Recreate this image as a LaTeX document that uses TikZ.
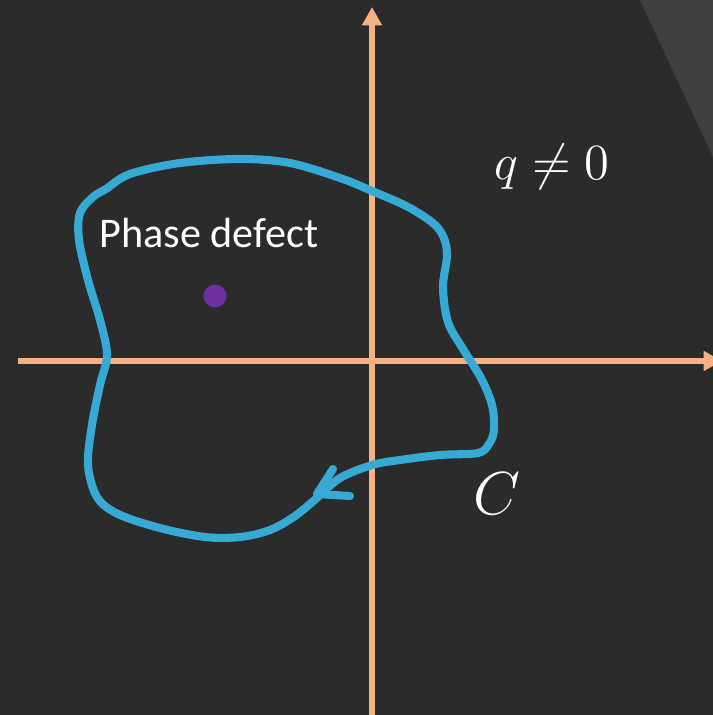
\documentclass[tikz,border=0pt]{standalone}
\usepackage{fontspec}
\setmainfont{Carlito}
\usetikzlibrary{arrows.meta}
\definecolor{bgc}{HTML}{2B2B2B}
\definecolor{tric}{HTML}{404040}
\definecolor{axc}{HTML}{F4B183}
\definecolor{loopc}{HTML}{36A9D4}
\definecolor{dotc}{HTML}{7030A0}
\tikzset{
  axis/.style={draw=axc, line width=1.45pt, -{Triangle[length=5.2pt,width=5.4pt]}},
  loopline/.style={draw=loopc, line width=2.3pt, line cap=round, line join=round},
  lbl/.style={text=white, inner sep=0pt},
}
\begin{document}
\begin{tikzpicture}[x=0.01cm,y=-0.01cm]
\fill[bgc] (0,0) rectangle (713,715);
\useasboundingbox (0,0) rectangle (713,715);
\clip (0,0) rectangle (713,715);
\fill[tric] (640,0) -- (713,0) -- (713,157) -- cycle;
% axes
\coordinate (xl) at (18,361);
\coordinate (xr) at (722,361);
\coordinate (yb) at (372,715);
\coordinate (yt) at (372,7);
\draw[axis] (xl) -- (xr);
\draw[axis] (yb) -- (yt);
% loop
\draw[loopline] plot[smooth, tension=0.55] coordinates {
(318,497) (295,516) (270,530) (240,537) (205,537) (160,528) (118,514) (97,497)
(88,465) (92,425) (100,385) (107,355) (100,320) (88,280) (79,240) (80,213)
(93,197) (106,189) (130,174) (180,163) (240,159) (290,163) (340,178) (372,191)
(410,208) (438,228) (447,252) (443,287) (448,322) (463,349) (481,378) (492,405)
(494,430) (489,444) (478,453) (440,455) (400,460) (372,465) (340,478) (318,497)};
% arrowhead barbs
\coordinate (tip) at (317,494);
\coordinate (b1) at (333,469);
\coordinate (b2) at (350,496);
\draw[loopline] (b1) -- (tip) -- (b2);
% dot
\fill[dotc] (215,296) circle (11.5);
% labels
\node[lbl, font=\fontsize{12}{14}\selectfont] (pd) at (209,233) {Phase defect};
\node[lbl, font=\fontsize{14}{16}\selectfont] (q) at (552,167) {$q\neq 0$};
\node[lbl, font=\fontsize{16}{18}\selectfont] (c) at (497,494) {$C$};
\end{tikzpicture}
\end{document}
